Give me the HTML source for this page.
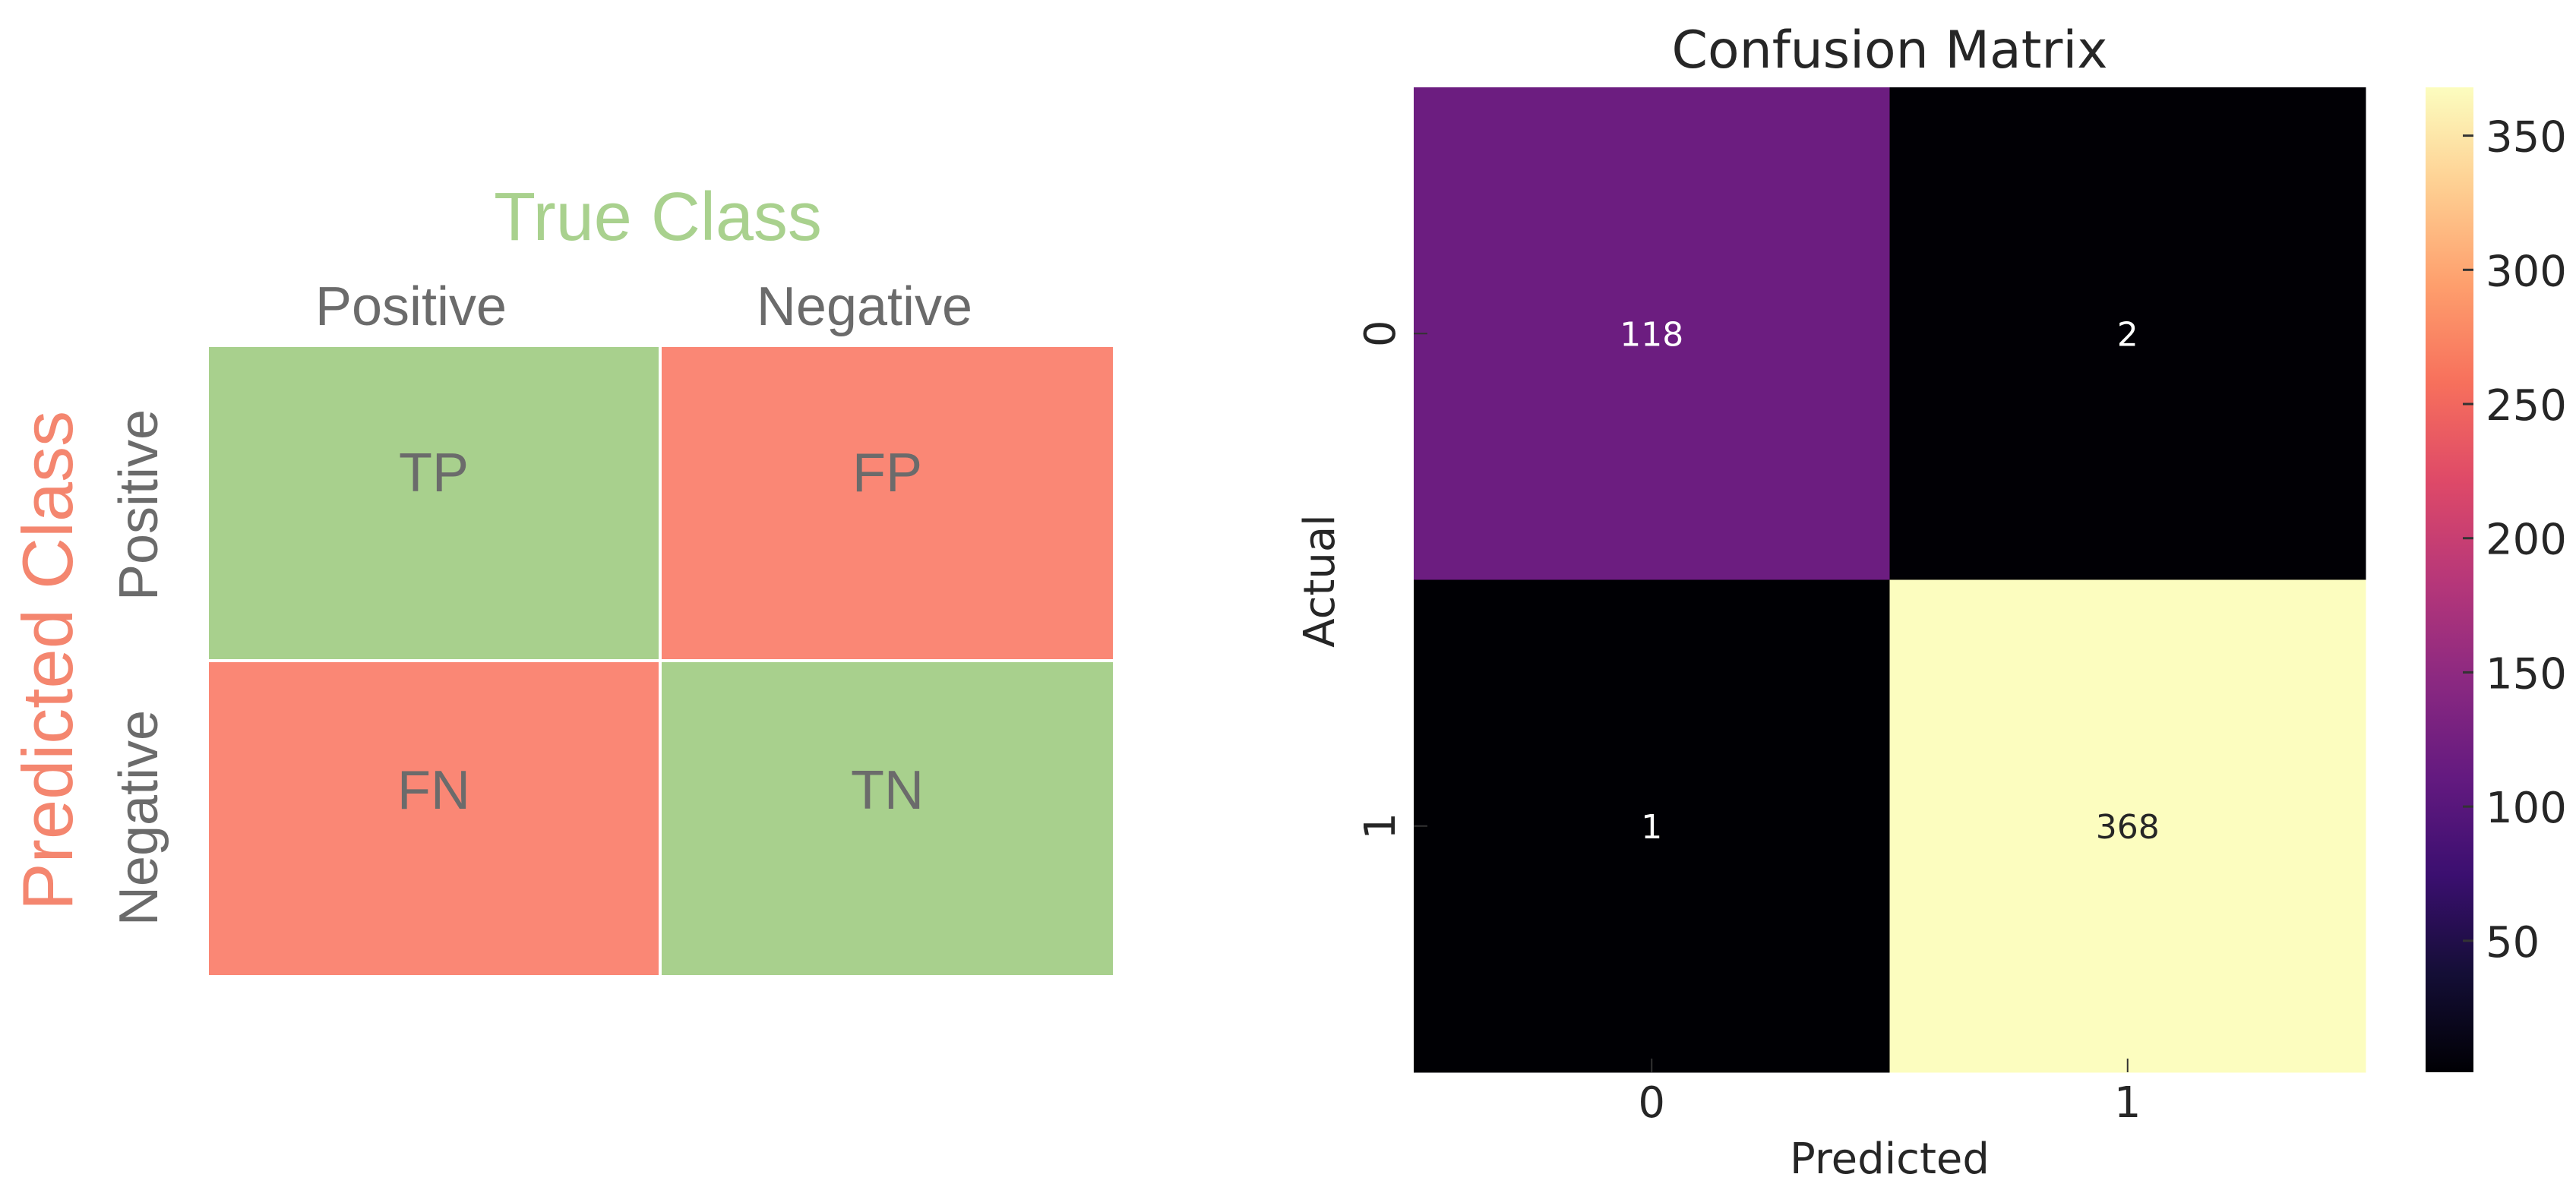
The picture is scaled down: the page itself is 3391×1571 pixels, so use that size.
<!DOCTYPE html>
<html><head><meta charset="utf-8"><style>
html,body{margin:0;padding:0;background:#fff;}
svg{display:block;}
</style></head><body>
<svg id="fig" width="3391" height="1571" viewBox="0 0 3391 1571" xmlns="http://www.w3.org/2000/svg">
<g id="left" font-family="Liberation Sans, sans-serif">
  <text x="866" y="316" font-size="90" fill="#a9d18e" text-anchor="middle">True Class</text>
  <text x="541" y="428" font-size="72" fill="#6b6b6b" text-anchor="middle">Positive</text>
  <text x="1138" y="428" font-size="72" fill="#6b6b6b" text-anchor="middle">Negative</text>
  <text transform="translate(95,870) rotate(-90)" font-size="94" fill="#f4866f" text-anchor="middle">Predicted Class</text>
  <text transform="translate(207,665) rotate(-90)" font-size="72" fill="#6b6b6b" text-anchor="middle">Positive</text>
  <text transform="translate(207,1077) rotate(-90)" font-size="72" fill="#6b6b6b" text-anchor="middle">Negative</text>
  <rect x="275" y="457" width="592" height="411" fill="#a8d08d"/>
  <rect x="871" y="457" width="594" height="411" fill="#fa8775"/>
  <rect x="275" y="872" width="592" height="412" fill="#fa8775"/>
  <rect x="871" y="872" width="594" height="412" fill="#a8d08d"/>
  <text x="571" y="647" font-size="72" fill="#6b6b6b" text-anchor="middle">TP</text>
  <text x="1168" y="647" font-size="72" fill="#6b6b6b" text-anchor="middle">FP</text>
  <text x="571" y="1065" font-size="72" fill="#6b6b6b" text-anchor="middle">FN</text>
  <text x="1168" y="1065" font-size="72" fill="#6b6b6b" text-anchor="middle">TN</text>
</g>
<defs>
  <linearGradient id="magma" x1="0" y1="1" x2="0" y2="0">
    <stop offset="0" stop-color="#000004"/><stop offset="0.1" stop-color="#140e36"/>
    <stop offset="0.2" stop-color="#3b0f70"/><stop offset="0.3" stop-color="#641a80"/>
    <stop offset="0.4" stop-color="#8c2981"/><stop offset="0.5" stop-color="#b73779"/>
    <stop offset="0.6" stop-color="#de4968"/><stop offset="0.7" stop-color="#f7705c"/>
    <stop offset="0.8" stop-color="#fe9f6d"/><stop offset="0.9" stop-color="#fecf92"/>
    <stop offset="1" stop-color="#fcfdbf"/>
  </linearGradient>
</defs>
<g id="right" font-family="DejaVu Sans, Liberation Sans, sans-serif" fill="#262626"></g>
</svg>
<script>
const rowLabels = ['0', '1'];
const colLabels = ['0', '1'];
const row0 = [118, 2];
const row1 = [1, 368];
const cbTicks = [50, 100, 150, 200, 250, 300, 350];
const vmin = 1, vmax = 368;

const NS = 'http://www.w3.org/2000/svg';
const g = document.getElementById('right');
const L = 1861, R = 3114, T = 115, B = 1412;
const CBL = 3193, CBR = 3256;
const matrix = [row0, row1];
const stops = [[0,0,0,4],[0.1,20,14,54],[0.2,59,15,112],[0.3,100,26,128],[0.4,140,41,129],[0.5,183,55,121],[0.6,222,73,104],[0.7,247,112,92],[0.8,254,159,109],[0.9,254,207,146],[1,252,253,191]];
function magma(v){
  let t = Math.max(0, Math.min(1, (v - vmin) / (vmax - vmin)));
  for (let i = 1; i < stops.length; i++) {
    if (t <= stops[i][0]) {
      const a = stops[i-1], b = stops[i], f = (t - a[0]) / (b[0] - a[0]);
      return 'rgb(' + [1,2,3].map(k => Math.round(a[k] + (b[k]-a[k])*f)).join(',') + ')';
    }
  }
  return 'rgb(252,253,191)';
}
function xPos(i){ return L + (R - L) * i / colLabels.length; }
function yPos(j){ return T + (B - T) * j / rowLabels.length; }
function cbY(v){ return B - (B - T) * (v - vmin) / (vmax - vmin); }
function mk(tag, attrs, text){
  const e = document.createElementNS(NS, tag);
  for (const k in attrs) e.setAttribute(k, attrs[k]);
  if (text !== undefined) e.textContent = text;
  g.appendChild(e);
  return e;
}
let t = mk('text', {x: (L+R)/2, y: 89, 'font-size': 68, 'text-anchor': 'middle'}, 'Confusion Matrix');



const cw = (R - L) / colLabels.length, ch = (B - T) / rowLabels.length;
for (let r = 0; r < rowLabels.length; r++) {
  for (let c = 0; c < colLabels.length; c++) {
    const v = matrix[r][c];
    const rect = mk('rect', {x: xPos(c), y: yPos(r), width: cw + 0.5, height: ch + 0.5, fill: magma(v)});
    
    
    const tt = (v - vmin) / (vmax - vmin);
    const lbl = mk('text', {x: xPos(c) + cw/2, y: yPos(r) + ch/2 + 16, 'font-size': 44, 'text-anchor': 'middle', fill: tt > 0.6 ? '#262626' : '#ffffff'}, String(v));
    
    
  }
}
for (let c = 0; c < colLabels.length; c++) {
  const x = xPos(c) + cw/2;
  const tk = mk('line', {x1: x, y1: B, x2: x, y2: B - 18, stroke: '#333', 'stroke-width': 2});
  
  
  const tl = mk('text', {x: x, y: 1471, 'font-size': 56, 'text-anchor': 'middle'}, colLabels[c]);
  
  
}
for (let r = 0; r < rowLabels.length; r++) {
  const y = yPos(r) + ch/2;
  const tk = mk('line', {x1: L, y1: y, x2: L + 18, y2: y, stroke: '#333', 'stroke-width': 2});
  
  
  const tl = mk('text', {transform: 'translate(1836,' + y + ') rotate(-90)', 'font-size': 56, 'text-anchor': 'middle'}, rowLabels[r]);
  
  
}
let xt = mk('text', {x: (L+R)/2, y: 1545, 'font-size': 56, 'text-anchor': 'middle'}, 'Predicted');


let yt = mk('text', {transform: 'translate(1756,765) rotate(-90)', 'font-size': 56, 'text-anchor': 'middle'}, 'Actual');



const cb = mk('rect', {x: CBL, y: T, width: CBR - CBL, height: B - T, fill: 'url(#magma)'});


for (const v of cbTicks) {
  const y = cbY(v);
  const tk = mk('line', {x1: CBR - 14, y1: y, x2: CBR, y2: y, stroke: '#333', 'stroke-width': 3});
  
  
  const tl = mk('text', {x: 3272, y: y + 21, 'font-size': 56}, String(v));
  
  
}
</script>
</body></html>
